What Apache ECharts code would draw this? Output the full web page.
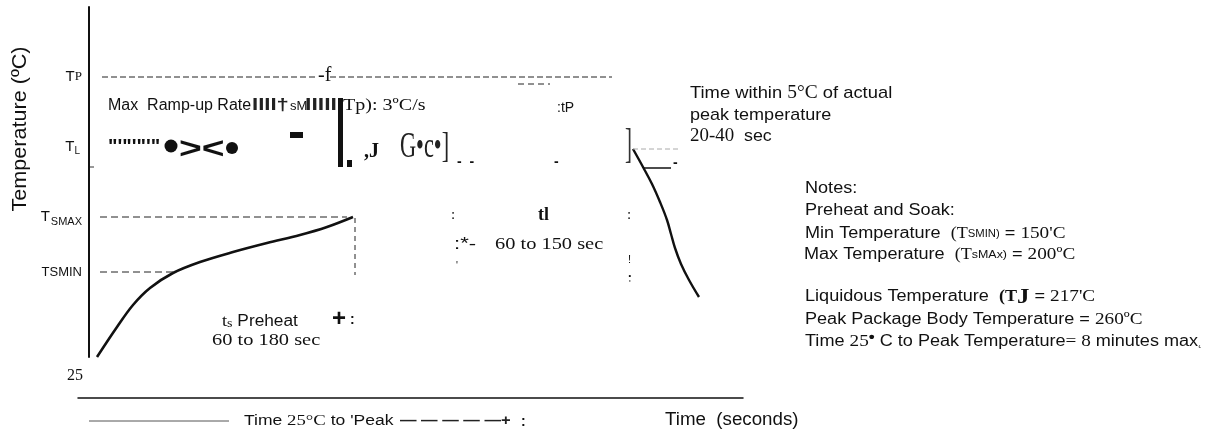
<!DOCTYPE html>
<html>
<head>
<meta charset="utf-8">
<script src="https://cdn.jsdelivr.net/npm/echarts@6/dist/echarts.min.js"></script>
<style>
  html, body { margin: 0; padding: 0; background: #fff; }
  #chart { width: 1221px; height: 430px; }
</style>
</head>
<body>
<div id="chart"></div>
<script>
// Reflow profile schematic: time runs left to right, temperature levels are schematic heights.
const levelNames = ['TSMIN', 'TSMAX', 'TL', 'TP'];
const levelValues = [85, 140, 210, 280];

// Preheat / soak ramp (25 °C up to TSMAX)
const preheatTime = [8, 28, 44, 61, 84, 111, 144, 178, 211, 238, 264];
const preheatTemp = [0, 30, 52, 69, 84, 95, 105, 114, 122, 130, 140];

// Cool-down branch after the peak
const coolTime = [544, 554, 563, 571, 578, 582, 586, 592, 600, 610];
const coolTemp = [208, 190, 173, 155, 137, 123, 109, 93, 77, 60];

// Guide lines
const tpGuideA = [[13, 280], [229, 280]];
const tpGuideB = [[241, 280], [523, 280]];
const tpGuideLow = [[429, 273], [461, 273]];
const tsmaxGuide = [[11, 140], [258, 140]];
const tsminGuide = [[11, 85], [88, 85]];
const soakEndGuide = [[266, 139], [266, 82]];
const peakGuide = [[544, 208], [589, 208]];
const peakStep = [[554, 189], [582, 189]];
const tlTick = [[1, 190], [5, 190]];

// Bottom time-span marker
const spanMarker = [[11, 23], [151, 23]];

const SANS = '"Liberation Sans", Arial, sans-serif';
const SERIF = '"Liberation Serif", "Times New Roman", serif';

function pairs(xs, ys) { return xs.map((x, i) => [x, ys[i]]); }

const labelText = {
  TP: '{s|T}{r|P}',
  TL: '{s|T}{sub|L}{gap|}',
  TSMAX: '{s|T}{g2|}{sub2|SMAX}',
  TSMIN: '{small|TSMIN}'
};

function txt(x, y, text, font, sx, extra) {
  return {
    type: 'text', x: x, y: y, scaleX: sx || 1,
    style: Object.assign({ text: text, font: font, fill: '#111', verticalAlign: 'middle', align: 'left' }, extra || {})
  };
}
function richTxt(x, y, text, rich, sx) {
  return {
    type: 'text', x: x, y: y, scaleX: sx || 1,
    style: { text: text, rich: rich, fill: '#111', verticalAlign: 'middle', align: 'left' }
  };
}

const chart = echarts.init(document.getElementById('chart'), null, { renderer: 'canvas' });

const dashed = (color, w, dash) => ({ color: color, width: w, type: dash });

const NOTE = 16, NOTE_SX = 1.13;
const noteRich = {
  a: { fontFamily: SANS, fontSize: NOTE, color: '#111' },
  b: { fontFamily: SERIF, fontSize: 16, color: '#111' },
  bb: { fontFamily: SERIF, fontSize: 16, fontWeight: 'bold', color: '#111' },
  j: { fontFamily: SERIF, fontSize: 22, fontWeight: 'bold', color: '#111' },
  s: { fontFamily: SANS, fontSize: 10, color: '#111' },
  s2: { fontFamily: SANS, fontSize: 11, color: '#111' },
  n: { fontFamily: SERIF, fontSize: 17, color: '#111' },
  d: { fontFamily: SANS, fontSize: 15, fontWeight: 'bold', color: '#111', padding: [0, 0, 8, 0] }
};

const option = {
  animation: false,
  backgroundColor: '#ffffff',
  grid: [
    { left: 89, top: 7, width: 654, height: 350, containLabel: false },
    { left: 78, top: 398, width: 665, height: 30, containLabel: false }
  ],
  xAxis: [
    { gridIndex: 0, type: 'value', min: 0, max: 654, show: false },
    { gridIndex: 1, type: 'value', min: 0, max: 665, position: 'top',
      axisLine: { show: true, onZero: false, lineStyle: { color: '#111', width: 1.5 } },
      axisTick: { show: false }, axisLabel: { show: false }, splitLine: { show: false } }
  ],
  yAxis: [
    { gridIndex: 0, type: 'value', min: 0, max: 350,
      axisLine: { show: true, lineStyle: { color: '#111', width: 2 } },
      axisTick: { show: false },
      splitLine: { show: false },
      axisLabel: {
        customValues: levelValues,
        margin: 7,
        formatter: function (v) {
          const i = levelValues.indexOf(v);
          return i >= 0 ? labelText[levelNames[i]] : '';
        },
        rich: {
          s: { fontFamily: SANS, fontSize: 15, color: '#111' },
          r: { fontFamily: SERIF, fontSize: 13, color: '#111' },
          sub: { fontFamily: SANS, fontSize: 10, color: '#111', padding: [9, 0, 0, 0] },
          sub2: { fontFamily: SANS, fontSize: 11, color: '#111', padding: [9, 0, 0, 0] },
          gap: { width: 2 },
          g2: { width: 1 },
          small: { fontFamily: SANS, fontSize: 13, color: '#111' }
        }
      }
    },
    { gridIndex: 1, type: 'value', min: 0, max: 30, inverse: true, show: false }
  ],
  series: [
    { type: 'line', xAxisIndex: 0, yAxisIndex: 0, data: pairs(preheatTime, preheatTemp), smooth: 0.35,
      showSymbol: false, lineStyle: { color: '#111', width: 2.6 } },
    { type: 'line', xAxisIndex: 0, yAxisIndex: 0, data: pairs(coolTime, coolTemp), smooth: 0.4,
      showSymbol: false, lineStyle: { color: '#111', width: 2.4 } },
    { type: 'line', data: tpGuideA, showSymbol: false, lineStyle: dashed('#222', 1, [6, 3]) },
    { type: 'line', data: tpGuideB, showSymbol: false, lineStyle: dashed('#222', 1, [6, 3]) },
    { type: 'line', data: tpGuideLow, showSymbol: false, lineStyle: dashed('#222', 1, [6, 4]) },
    { type: 'line', data: tsmaxGuide, showSymbol: false, lineStyle: dashed('#222', 1, [7, 4]) },
    { type: 'line', data: tsminGuide, showSymbol: false, lineStyle: dashed('#222', 1, [7, 4]) },
    { type: 'line', data: soakEndGuide, showSymbol: false, lineStyle: dashed('#222', 1, [5, 4]) },
    { type: 'line', data: peakGuide, showSymbol: false, lineStyle: dashed('#aaa', 1, [5, 3]) },
    { type: 'line', data: peakStep, showSymbol: false, lineStyle: { color: '#111', width: 1.5 } },
    { type: 'line', data: tlTick, showSymbol: false, lineStyle: { color: '#333', width: 1 } },
    { type: 'line', xAxisIndex: 1, yAxisIndex: 1, data: spanMarker, showSymbol: false,
      lineStyle: { color: '#555', width: 1 } }
  ],
  graphic: [
    // axis title
    { type: 'text', x: 20, y: 129, rotation: Math.PI / 2, scaleX: 1.08,
      style: { text: 'Temperature (ºC)', font: '20px ' + SANS, fill: '#111', align: 'center', verticalAlign: 'middle' } },
    txt(67, 376, '25', '16px ' + SERIF),

    // TP line annotation
    txt(318, 76, '-f', '20px ' + SERIF),

    // ramp-up rate line
    txt(108, 106, 'Max  Ramp-up Rate', '16px ' + SANS),
    txt(252, 105, 'IIII†', 'bold 17px ' + SANS, 1.3, { fill: '#222' }),
    txt(290, 106, 'sM', '13px ' + SANS),
    txt(305, 105, 'IIIII', 'bold 17px ' + SANS, 1.35, { fill: '#222' }),
    { type: 'rect', shape: { x: 338, y: 98, width: 5, height: 69 }, style: { fill: '#111' } },
    { type: 'rect', shape: { x: 347, y: 160, width: 5, height: 7 }, style: { fill: '#111' } },
    txt(343, 106, 'Tp): 3ºC/s', '17px ' + SERIF, 1.18),
    txt(557, 108, ':tP', '14px ' + SANS),

    // TL row
    txt(108, 147, '"\'"\'"\'"', 'bold 20px ' + SANS),
    { type: 'circle', shape: { cx: 171, cy: 146, r: 6.5 }, style: { fill: '#111' } },
    txt(179, 150, '><', 'bold 30px ' + SANS, 1.3),
    { type: 'circle', shape: { cx: 232, cy: 148, r: 6 }, style: { fill: '#111' } },
    { type: 'rect', shape: { x: 290, y: 132, width: 13, height: 6 }, style: { fill: '#111' } },
    txt(364, 152, ',J', 'bold 20px ' + SERIF),
    { type: 'text', x: 400, y: 148, scaleX: 0.62,
      style: { text: 'G•c•]', font: '36px ' + SERIF, fill: '#222', verticalAlign: 'middle', align: 'left' } },
    txt(457, 162, '-  -', 'bold 14px ' + SANS),
    txt(554, 162, '-', 'bold 14px ' + SANS),
    { type: 'text', x: 625, y: 146, scaleX: 0.5,
      style: { text: ']', font: '42px ' + SERIF, fill: '#333', verticalAlign: 'middle', align: 'left' } },
    txt(673, 163, '-', 'bold 14px ' + SANS),

    // peak time note
    richTxt(690, 93, '{a|Time within }{b|5°C}{a| of actual}', {
      a: { fontFamily: SANS, fontSize: 17, color: '#111' },
      b: { fontFamily: SERIF, fontSize: 18, color: '#111' } }, 1.08),
    txt(690, 115, 'peak temperature', '17px ' + SANS, 1.06),
    richTxt(690, 136, '{b|20-40}{a|  sec}', {
      a: { fontFamily: SANS, fontSize: 17, color: '#111' },
      b: { fontFamily: SERIF, fontSize: 18, color: '#111' } }, 1.05),

    // time-above-liquidus label
    txt(451, 215, ':', '15px ' + SERIF),
    txt(538, 215, 'tl', 'bold 18px ' + SERIF),
    txt(627, 215, ':', '15px ' + SERIF),
    txt(454, 244, ':*-', '17px ' + SANS, 1.3),
    txt(495, 245, '60 to 150 sec', '17px ' + SERIF, 1.2),
    txt(456, 266, '\'', '10px ' + SANS),
    txt(628, 260, '!', '11px ' + SANS),
    txt(628, 273, '.', 'bold 13px ' + SANS),
    txt(629, 284, '\'', '9px ' + SANS),

    // preheat label
    richTxt(222, 322, '{b|t}{c|s}{a| Preheat}', {
      a: { fontFamily: SANS, fontSize: 16, color: '#111' },
      b: { fontFamily: SERIF, fontSize: 17, color: '#111' },
      c: { fontFamily: SERIF, fontSize: 13, color: '#111', padding: [3, 0, 0, 0] } }, 1.08),
    txt(332, 319, '+', 'bold 24px ' + SANS),
    txt(350, 320, ':', 'bold 14px ' + SANS),
    txt(212, 341, '60 to 180 sec', '17px ' + SERIF, 1.2),

    // notes block
    txt(805, 189, 'Notes:', NOTE + 'px ' + SANS, NOTE_SX),
    txt(805, 211, 'Preheat and Soak:', NOTE + 'px ' + SANS, NOTE_SX),
    richTxt(805, 234, '{a|Min Temperature  }{b|(T}{s|SMIN)}{a| = }{n|150\'C}', noteRich, NOTE_SX),
    richTxt(804, 255, '{a|Max Temperature  }{b|(T}{s2|sMAx)}{a| = }{n|200ºC}', noteRich, NOTE_SX),
    richTxt(805, 297, '{a|Liquidous Temperature  }{bb|(T}{j|J}{a| = }{n|217\'C}', noteRich, NOTE_SX),
    richTxt(805, 320, '{a|Peak Package Body Temperature = }{n|260ºC}', noteRich, NOTE_SX),
    richTxt(805, 342, '{a|Time }{n|25}{d|•}{a| C to Peak Temperature}{n|= 8 }{a|minutes max}{s|˛}', noteRich, NOTE_SX),

    // bottom span label
    richTxt(244, 421, '{a|Time }{b|25°C}{a| to \'Peak}', {
      a: { fontFamily: SANS, fontSize: 14, color: '#111' },
      b: { fontFamily: SERIF, fontSize: 15, color: '#111' } }, 1.25),
    txt(400, 421, '— — — — —+', 'bold 14px ' + SANS, 1.18, { fill: '#222' }),
    txt(521, 422, ':', 'bold 14px ' + SANS),
    txt(665, 420, 'Time  (seconds)', '18px ' + SANS, 1.04)
  ]
};

chart.setOption(option);
</script>
</body>
</html>
